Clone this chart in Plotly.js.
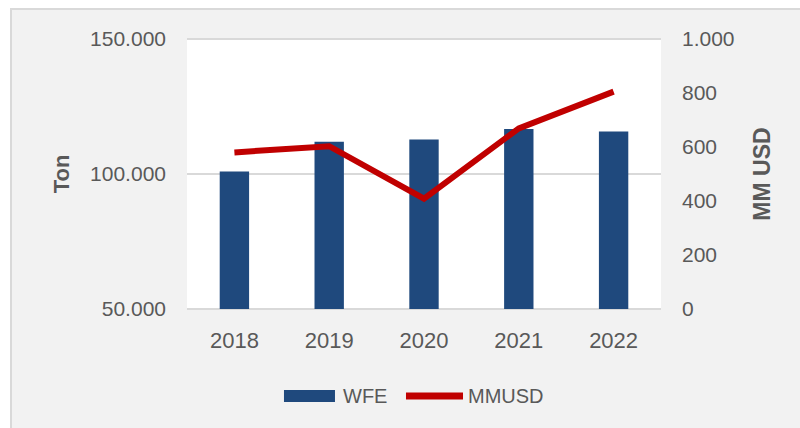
<!DOCTYPE html>
<html>
<head>
<meta charset="utf-8">
<script src="https://cdn.plot.ly/plotly-3.0.1.min.js"></script>
<style>
  html, body { margin: 0; padding: 0; background: #ffffff; }
  #bg { position: absolute; left: 10px; top: 8px; width: 790px; height: 420px;
        box-sizing: border-box; background: #f2f2f2;
        border-left: 2px solid #d9d9d9; border-top: 2px solid #d9d9d9; }
  #chart { position: absolute; left: 0; top: 0; width: 800px; height: 428px; }
</style>
</head>
<body>
<div id="bg"></div>
<div id="chart"></div>
<script>
// Data
const years = ['2018', '2019', '2020', '2021', '2022'];
const wfeTon = [100900, 111900, 112800, 116700, 115700];
const mmUsd = [580, 603, 409, 669, 805];
const leftTicks = [50000, 100000, 150000];
const rightTicks = [0, 200, 400, 600, 800, 1000];
const seriesNames = ['WFE', 'MMUSD'];

const fontFam = '"Liberation Sans", Arial, sans-serif';
const grey = '#595959';
const barColor = '#1F497D';
const lineColor = '#C00000';

// Bars start at the axis minimum (as in the original Excel chart)
const barBase = leftTicks[0];

const traces = [
  {
    type: 'bar', name: seriesNames[0], x: years,
    base: barBase, y: wfeTon.map(v => v - barBase),
    marker: { color: barColor }, width: 0.31,
    yaxis: 'y', hoverinfo: 'skip', showlegend: false
  },
  {
    type: 'scatter', mode: 'lines', name: seriesNames[1], x: years, y: mmUsd,
    line: { color: lineColor, width: 6 },
    yaxis: 'y2', hoverinfo: 'skip', showlegend: false
  }
];

// White plot background limited to the axis span, plus Excel-style legend keys
const legY = -0.3043;
const shapes = [
  { type: 'rect', layer: 'below', xref: 'paper', yref: 'y', x0: 0, x1: 1,
    y0: leftTicks[0], y1: leftTicks[leftTicks.length - 1],
    fillcolor: '#ffffff', line: { width: 0 } },
  { type: 'rect', xref: 'paper', yref: 'paper', x0: 0.2046, x1: 0.3122, y0: -0.2826, y1: -0.3261,
    fillcolor: barColor, line: { width: 0 } },
  { type: 'line', xref: 'paper', yref: 'paper', x0: 0.462, x1: 0.5823, y0: legY, y1: legY,
    line: { color: lineColor, width: 7 } }
];
const annotations = [
  { xref: 'paper', yref: 'paper', x: 0.325, y: legY, xanchor: 'left', yanchor: 'middle',
    text: seriesNames[0], showarrow: false, font: { family: fontFam, size: 20, color: grey } },
  { xref: 'paper', yref: 'paper', x: 0.5885, y: legY, xanchor: 'left', yanchor: 'middle',
    text: seriesNames[1], showarrow: false, font: { family: fontFam, size: 20, color: grey } }
];

const layout = {
  width: 800, height: 428,
  margin: { l: 187, r: 139, t: 36, b: 116 },
  paper_bgcolor: 'rgba(0,0,0,0)',
  plot_bgcolor: 'rgba(0,0,0,0)',
  separators: ',.',
  font: { family: fontFam, size: 21, color: grey },
  showlegend: false,
  shapes: shapes,
  annotations: annotations,
  xaxis: {
    type: 'category', showgrid: false, zeroline: false, showline: false,
    ticks: '', ticklabelstandoff: 13,
    tickfont: { family: fontFam, size: 22, color: grey }
  },
  yaxis: {
    range: [48900, 151100], tickvals: leftTicks, tickformat: ',d',
    showgrid: true, gridcolor: '#d9d9d9', gridwidth: 2,
    zeroline: false, showline: false, ticks: '', ticklabelstandoff: 20,
    tickfont: { family: fontFam, size: 21, color: grey },
    title: { text: 'Ton', standoff: 14, font: { family: fontFam, size: 22, color: grey, weight: 'bold' } }
  },
  yaxis2: {
    range: [-11, 1011], tickvals: rightTicks, tickformat: ',d',
    overlaying: 'y', side: 'right',
    showgrid: false, zeroline: false, showline: false, ticks: '', ticklabelstandoff: 20,
    tickfont: { family: fontFam, size: 21, color: grey },
    title: { text: 'MM USD', standoff: 20, font: { family: fontFam, size: 23, color: grey, weight: 'bold' } }
  }
};

Plotly.newPlot('chart', traces, layout, { staticPlot: true, displayModeBar: false });
</script>
</body>
</html>
